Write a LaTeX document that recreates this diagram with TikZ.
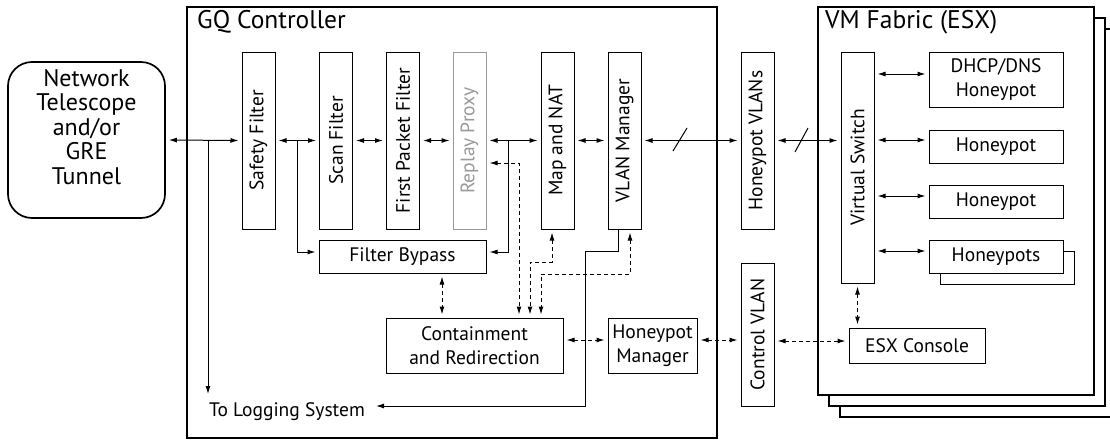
\documentclass[tikz,border=0pt]{standalone}
\usepackage{fontspec}
\setmainfont{PT Sans}
\usepackage{graphicx}
\usetikzlibrary{arrows.meta}
\begin{document}
\begin{tikzpicture}[x=1pt,y=-1pt,
  txt/.style={font=\fontsize{19.5}{24}\selectfont},
  box/.style={draw, line width=1pt, inner sep=0pt, align=center, fill=white, txt},
  vbox/.style={box, minimum width=33, minimum height=177},
  hbox/.style={box, minimum width=134, minimum height=33},
  frame/.style={draw, line width=1.9pt, fill=white, inner sep=0pt},
  title/.style={anchor=west, inner sep=0pt, font=\fontsize{25.5}{28}\selectfont},
  conn/.style={line width=1pt},
  one/.style={conn, -{Latex[length=8pt,width=5pt]}, shorten >=3pt},
  two/.style={conn, {Latex[length=8pt,width=5pt]}-{Latex[length=8pt,width=5pt]}, shorten <=3pt, shorten >=3pt},
  dsh/.style={dash pattern=on 4pt off 3pt},
  faded/.style={draw=black!40, text=black!40},
]
\useasboundingbox (0,0) rectangle (1110,442);

% ---------- source ----------
\node[draw, line width=1.7pt, rounded corners=24pt, minimum width=157, minimum height=156] (nt) at (86.5,140) {};
\node[align=center, inner sep=0pt, font=\fontsize{24}{24.5}\selectfont] (ntl) at (86.5,127) {Network\\Telescope\\and/or\\GRE\\Tunnel};

% ---------- GQ controller ----------
\node[frame, minimum width=530, minimum height=431] (gq) at (452,222.5) {};
\node[title] (gqt) at (197,22) {GQ Controller};

\node[vbox] (sf)  at (258.5,140.5) {\rotatebox{90}{Safety Filter}};
\node[vbox] (scf) at (336,140.5)   {\rotatebox{90}{Scan Filter}};
\node[vbox] (fpf) at (403,140.5)   {\rotatebox{90}{First Packet Filter}};
\node[vbox, faded] (rp) at (469.5,140.5) {\rotatebox{90}{Replay Proxy}};
\node[vbox] (mn)  at (557.5,140.5) {\rotatebox{90}{Map and NAT}};
\node[vbox] (vlm) at (624.5,140.5) {\rotatebox{90}{VLAN Manager}};

\node[box, minimum width=167, minimum height=33] (fb) at (402.5,256.5) {Filter Bypass};
\node[box, minimum width=177, minimum height=55] (cr) at (474.5,345.5) {Containment\\and Redirection};
\node[box, minimum width=89, minimum height=55] (hm) at (652.5,345.5) {Honeypot\\Manager};
\node[txt, anchor=west, inner sep=0pt] (tl) at (209,412) {To Logging System};

% ---------- VLANs ----------
\node[vbox] (hv) at (757.5,140.5) {\rotatebox{90}{Honeypot VLANs}};
\node[box, minimum width=33, minimum height=143] (cv) at (757.5,334.5) {\rotatebox{90}{Control VLAN}};

% ---------- VM fabric (stacked) ----------
\node[frame, minimum width=276, minimum height=388] (vm3) at (978,223) {};
\node[frame, minimum width=276, minimum height=388] (vm2) at (967,212) {};
\node[frame, minimum width=276, minimum height=388] (vm1) at (956,201) {};
\node[title] (vmt) at (825,22) {VM Fabric (ESX)};

\node[box, minimum width=33, minimum height=231] (vs) at (857.5,167.5) {\rotatebox{90}{Virtual Switch}};
\node[hbox, minimum height=55] (dhcp) at (996,79.5) {DHCP/DNS\\Honeypot};
\node[hbox] (hp1) at (996,146.5) {Honeypot};
\node[hbox] (hp2) at (996,201.5) {Honeypot};
\node[hbox] (hps2) at (1007,267.5) {};
\node[hbox] (hps) at (996,256.5) {Honeypots};
\node[box, minimum width=136, minimum height=35] (esx) at (917,345.5) {ESX Console};

% ---------- bend points ----------
\coordinate (logtap) at (208,140);
\coordinate (logend) at (208,394);
\coordinate (tapA) at (297,140);
\coordinate (tapB) at (508,140);
\coordinate (login) at (376,406);

% ---------- data path ----------
\draw[two] (nt.east) -- (sf.west);
\draw[one, shorten >=0pt] (logtap) -- (logend);
\draw[two] (sf.east) -- (scf.west);
\draw[two] (scf.east) -- (fpf.west);
\draw[two] (fpf.east) -- (rp.west);
\draw[two] (rp.east) -- (mn.west);
\draw[two] (mn.east) -- (vlm.west);
\draw[two] (vlm.east) -- (hv.west);
\draw[two] (hv.east) -- (vs.west |- hv.east);

% trunk marks
\draw[conn] (673,151) -- (687,128);
\draw[conn] (795,152) -- (808,128);

% filter bypass
\draw[one] (tapA) |- (fb.west |- 0,252);
\draw[one] (tapB) |- (fb.east |- 0,252);

% logging output
\draw[one, shorten >=0pt] ([xshift=-6.5pt]vlm.south) |- (585,251) -- (585,406) -- (login);

% control (dashed)
\draw[two, dsh] (rp.east |- 0,163) -| (cr.north -| 519,0);
\draw[two, dsh] ([xshift=-5.5pt]mn.south) |- (530,262) -- (cr.north -| 530,0);
\draw[two, dsh] ([xshift=5.5pt]vlm.south) |- (541,274) -- (cr.north -| 541,0);
\draw[two, dsh] (fb.south -| 442,0) -- (cr.north -| 442,0);
\draw[two, dsh] (cr.east |- 0,340) -- (hm.west |- 0,340);
\draw[two, dsh] (hm.east |- 0,340) -- (cv.west |- 0,340);
\draw[two, dsh] (cv.east |- 0,341) -- (esx.west |- 0,341);
\draw[two, dsh] (vs.south) -- (esx.north -| vs.south);

% virtual switch ports
\draw[two] (vs.east |- 0,74) -- (dhcp.west |- 0,74);
\draw[two] (vs.east |- 0,140) -- (hp1.west |- 0,140);
\draw[two] (vs.east |- 0,196) -- (hp2.west |- 0,196);
\draw[two] (vs.east |- 0,251) -- (hps.west |- 0,251);
\end{tikzpicture}
\end{document}
